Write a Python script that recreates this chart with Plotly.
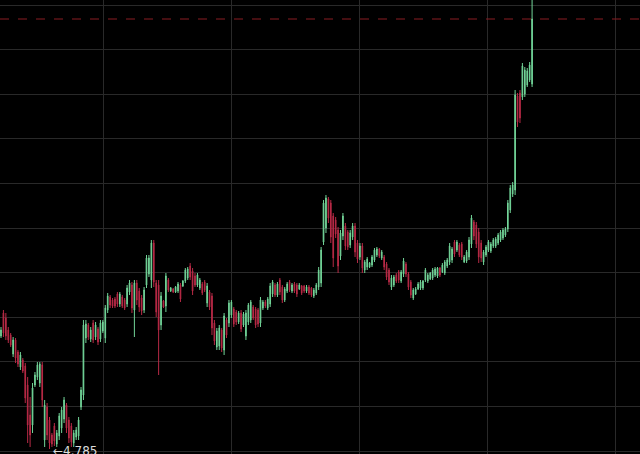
import plotly.graph_objects as go

# Daily OHLC prices (oldest -> newest)
opens = [5.35,5.465,5.44,5.38,5.355,5.26,5.33,5.27,5.195,5.23,5.2,5.105,4.955,4.905,5.105,5.145,5.115,5.205,
         4.83,4.995,4.93,4.855,4.9,4.81,4.85,4.89,4.935,5.005,4.93,4.9,4.815,4.845,4.85,4.995,5.055,5.34,5.405,
         5.335,5.415,5.345,5.385,5.335,5.375,5.34,5.48,5.545,5.53,5.535,5.56,5.51,5.545,5.53,5.51,5.57,5.605,5.48,5.615,
         5.575,5.54,5.48,5.605,5.66,5.63,5.815,5.615,5.605,5.405,5.525,5.5,5.63,5.575,5.585,5.57,5.575,5.605,5.6,5.625,5.64,
         5.7,5.675,5.65,5.605,5.59,5.61,5.62,5.515,5.57,5.55,5.415,5.295,5.3,5.38,5.28,5.43,5.415,5.455,5.485,5.47,5.42,
         5.465,5.405,5.35,5.42,5.43,5.495,5.485,5.48,5.415,5.49,5.52,5.49,5.51,5.56,5.605,5.555,5.63,5.595,5.53,5.575,5.62,
         5.575,5.61,5.605,5.585,5.6,5.6,5.575,5.595,5.59,5.55,5.565,5.595,5.615,5.82,5.89,6.035,6.015,5.95,5.93,5.88,5.75,
         5.85,5.9,5.87,5.805,5.845,5.9,5.815,5.745,5.8,5.68,5.695,5.695,5.705,5.73,5.755,5.785,5.74,5.745,5.71,5.68,
         5.595,5.605,5.655,5.67,5.625,5.66,5.71,5.66,5.62,5.54,5.56,5.585,5.59,5.59,5.63,5.625,5.635,5.64,5.655,5.65,
         5.69,5.67,5.665,5.7,5.72,5.73,5.82,5.78,5.805,5.81,5.72,5.725,5.745,5.81,5.92,5.905,5.87,5.815,5.72,5.755,
         5.78,5.775,5.8,5.8,5.815,5.83,5.84,5.855,5.885,5.98,6.06,6.08,6.55,6.565,6.545,6.56,6.605,6.63,6.61]
highs = [5.395,5.48,5.465,5.395,5.365,5.345,5.34,5.28,5.27,5.24,5.215,5.145,5.045,5.115,5.17,5.22,5.22,5.22,
         5.03,5.015,4.945,4.865,4.915,4.88,4.965,4.995,5.045,5.015,4.945,4.915,4.88,4.895,4.945,5.095,5.43,5.43,5.415,
         5.395,5.43,5.42,5.395,5.43,5.43,5.505,5.565,5.555,5.54,5.545,5.57,5.57,5.555,5.54,5.605,5.63,5.62,5.63,5.63,
         5.59,5.555,5.595,5.755,5.755,5.83,5.83,5.63,5.63,5.57,5.53,5.665,5.64,5.595,5.59,5.6,5.62,5.615,5.63,5.69,5.695,
         5.715,5.69,5.665,5.665,5.64,5.62,5.63,5.615,5.58,5.565,5.43,5.39,5.405,5.39,5.465,5.44,5.53,5.53,5.495,5.48,5.475,
         5.48,5.47,5.48,5.515,5.53,5.505,5.495,5.49,5.545,5.53,5.53,5.545,5.615,5.63,5.615,5.62,5.64,5.605,5.595,5.62,5.63,
         5.615,5.62,5.615,5.615,5.605,5.605,5.605,5.605,5.595,5.59,5.615,5.695,5.795,6.03,6.055,6.045,6.03,5.965,5.945,5.895,5.88,
         5.965,5.915,5.88,5.88,5.915,5.915,5.83,5.815,5.815,5.73,5.745,5.72,5.755,5.79,5.795,5.79,5.78,5.755,5.72,5.69,
         5.655,5.655,5.665,5.68,5.68,5.74,5.72,5.67,5.63,5.59,5.595,5.62,5.63,5.63,5.69,5.665,5.67,5.69,5.695,5.695,
         5.695,5.715,5.73,5.74,5.815,5.795,5.83,5.83,5.815,5.82,5.755,5.78,5.845,5.955,5.93,5.92,5.89,5.83,5.78,5.805,
         5.83,5.82,5.84,5.845,5.865,5.88,5.89,5.895,6.03,6.105,6.12,6.58,6.565,6.58,6.715,6.695,6.69,6.72,7.08]
lows = [5.34,5.345,5.33,5.315,5.295,5.245,5.215,5.195,5.18,5.165,5.015,4.815,4.795,4.865,5.095,5.13,5.095,4.995,
        4.795,4.83,4.785,4.795,4.8,4.795,4.83,4.865,4.915,4.865,4.815,4.795,4.795,4.83,4.83,4.98,5.03,5.315,5.33,
        5.32,5.315,5.33,5.305,5.32,5.365,5.315,5.465,5.49,5.49,5.49,5.495,5.495,5.49,5.48,5.495,5.555,5.465,5.345,5.505,
        5.47,5.455,5.465,5.59,5.645,5.59,5.595,5.445,5.155,5.38,5.49,5.47,5.57,5.57,5.565,5.565,5.565,5.52,5.595,5.615,5.63,
        5.63,5.555,5.595,5.595,5.58,5.555,5.57,5.495,5.48,5.355,5.305,5.28,5.28,5.27,5.255,5.34,5.395,5.44,5.395,5.405,5.41,
        5.37,5.395,5.33,5.405,5.415,5.43,5.39,5.395,5.395,5.48,5.49,5.48,5.495,5.545,5.545,5.545,5.555,5.515,5.52,5.565,5.57,
        5.565,5.565,5.545,5.58,5.555,5.565,5.565,5.555,5.545,5.54,5.555,5.58,5.595,5.805,5.865,5.915,5.815,5.695,5.84,5.665,5.73,
        5.83,5.78,5.78,5.79,5.83,5.745,5.715,5.73,5.665,5.665,5.68,5.69,5.695,5.72,5.745,5.74,5.73,5.68,5.63,5.605,
        5.58,5.595,5.615,5.615,5.615,5.645,5.645,5.58,5.54,5.53,5.555,5.58,5.58,5.58,5.62,5.615,5.63,5.63,5.645,5.64,
        5.645,5.665,5.655,5.69,5.705,5.715,5.745,5.77,5.745,5.73,5.715,5.715,5.73,5.79,5.83,5.79,5.715,5.72,5.705,5.745,
        5.77,5.765,5.79,5.79,5.805,5.82,5.83,5.845,5.87,5.965,6.045,6.055,6.395,6.415,6.53,6.545,6.595,6.62,6.595]
closes = [5.38,5.365,5.35,5.33,5.305,5.33,5.24,5.21,5.255,5.175,5.04,4.905,4.855,5.09,5.155,5.205,5.21,5.03,
          5.005,4.855,4.815,4.81,4.825,4.865,4.95,4.98,5.03,4.89,4.84,4.82,4.865,4.88,4.93,5.08,5.405,5.41,5.345,
          5.38,5.33,5.405,5.32,5.415,5.42,5.49,5.55,5.505,5.5,5.5,5.51,5.56,5.5,5.49,5.59,5.615,5.49,5.615,5.53,
          5.495,5.475,5.58,5.74,5.74,5.815,5.62,5.47,5.38,5.55,5.495,5.65,5.58,5.59,5.57,5.595,5.61,5.535,5.625,5.68,5.685,
          5.645,5.575,5.605,5.655,5.63,5.565,5.58,5.6,5.495,5.39,5.325,5.375,5.39,5.29,5.45,5.355,5.515,5.52,5.41,5.42,5.465,
          5.385,5.46,5.465,5.505,5.52,5.44,5.405,5.41,5.53,5.52,5.5,5.535,5.6,5.62,5.555,5.61,5.57,5.53,5.585,5.61,5.58,
          5.605,5.575,5.56,5.605,5.565,5.575,5.595,5.565,5.555,5.58,5.605,5.68,5.78,6.015,6.04,5.94,5.845,5.74,5.86,5.7,5.865,
          5.95,5.8,5.795,5.865,5.9,5.77,5.735,5.8,5.69,5.72,5.735,5.715,5.745,5.78,5.785,5.75,5.77,5.695,5.645,5.62,
          5.64,5.645,5.625,5.63,5.67,5.725,5.66,5.595,5.555,5.58,5.585,5.61,5.62,5.625,5.68,5.655,5.665,5.68,5.685,5.69,
          5.655,5.705,5.72,5.73,5.8,5.785,5.76,5.82,5.755,5.745,5.745,5.77,5.83,5.94,5.85,5.81,5.745,5.74,5.77,5.795,
          5.82,5.81,5.83,5.835,5.855,5.87,5.88,5.885,6.015,6.09,6.105,6.555,6.42,6.44,6.7,6.68,6.675,6.705,6.935]

low_label = "←4.785"
low_value = 4.785
last_price = 6.935

n = len(closes)
idx = list(range(n))
low_idx = lows.index(min(lows))

fig = go.Figure(go.Candlestick(
    x=idx, open=opens, high=highs, low=lows, close=closes,
    increasing=dict(line=dict(color="#72d498", width=1), fillcolor="#72d498"),
    decreasing=dict(line=dict(color="#b82a46", width=1), fillcolor="#b82a46"),
    whiskerwidth=0, showlegend=False, hoverinfo="skip",
))

fig.add_hline(y=last_price, line=dict(color="#8a1c22", width=1, dash="dash"))

fig.add_annotation(x=low_idx, y=low_value, text=low_label, showarrow=False,
                   xanchor="left", yanchor="middle", xshift=1, yshift=-2,
                   font=dict(color="#dcdcdc", size=12, family="DejaVu Sans"))

fig.update_layout(
    width=640, height=454, margin=dict(l=0, r=0, t=0, b=0),
    paper_bgcolor="#000000", plot_bgcolor="#000000",
    boxgap=0.6,
    xaxis=dict(range=[-0.412, 263.5], showticklabels=False, zeroline=False,
               showgrid=True, gridcolor="#292929", gridwidth=1,
               tickmode="linear", tick0=42.07, dtick=52.85,
               rangeslider=dict(visible=False), fixedrange=True),
    yaxis=dict(range=[4.76, 7.03], showticklabels=False, zeroline=False,
               showgrid=True, gridcolor="#292929", gridwidth=1,
               tickmode="linear", tick0=4.775, dtick=0.223, fixedrange=True),
)

fig.write_html("out.html", config={"displayModeBar": False})

# remove the default page margin so the 640x454 figure fills the window
with open("out.html", "r", encoding="utf-8") as f:
    html = f.read()
html = html.replace("<head>", "<head><style>html,body{margin:0;padding:0;background:#000;overflow:hidden;}</style>", 1)
with open("out.html", "w", encoding="utf-8") as f:
    f.write(html)
